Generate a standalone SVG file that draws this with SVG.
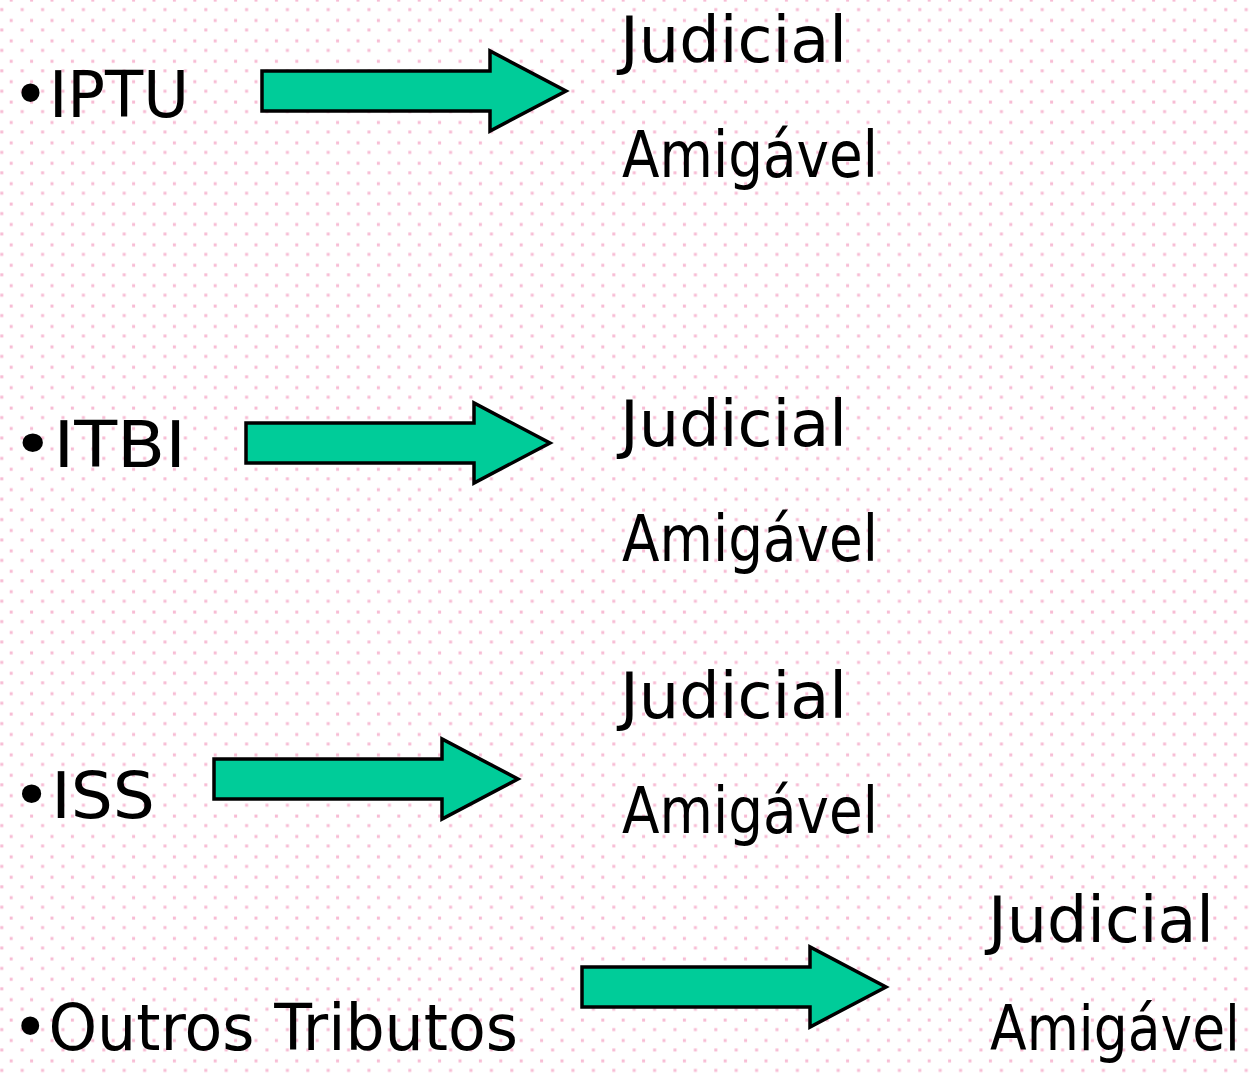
<svg xmlns="http://www.w3.org/2000/svg" xmlns:xlink="http://www.w3.org/1999/xlink" width="1249" height="1073" viewBox="0 0 1249 1073">
<defs>
<pattern id="dots" x="0" y="0" width="20.4" height="20.4" patternUnits="userSpaceOnUse">
<rect x="9.7" y="-1.4" width="3" height="3" fill="#f7bcd4"/>
<rect x="9.7" y="19" width="3" height="3" fill="#f7bcd4"/>
<rect x="0.3" y="8.1" width="3" height="3" fill="#f7bcd4"/>
<rect x="20.7" y="8.1" width="3" height="3" fill="#f7bcd4"/>
</pattern>
<path id="blockArrow" d="M0,20 H228 V0 L304,40 L228,80 V60 H0 Z"/>
<style>
.t{font-family:"Comic Sans MS","DejaVu Sans","Liberation Sans",sans-serif;font-size:64px;fill:#000}
.arr{fill:#00cc99;stroke:#000;stroke-width:3.5;stroke-linejoin:miter}
</style>
</defs>
<rect width="1249" height="1073" fill="#ffffff"/>
<rect width="1249" height="1073" fill="url(#dots)"/>
<g id="connectors">
<use xlink:href="#blockArrow" class="arr" transform="translate(262,51)"/>
<use xlink:href="#blockArrow" class="arr" transform="translate(246,403)"/>
<use xlink:href="#blockArrow" class="arr" transform="translate(214,739)"/>
<use xlink:href="#blockArrow" class="arr" transform="translate(582,947)"/>
</g>
<g id="iptu"><text class="t" x="12" y="117" textLength="177" lengthAdjust="spacingAndGlyphs">•IPTU</text></g>
<g id="iptu-judicial"><text class="t" x="620" y="62" textLength="227" lengthAdjust="spacingAndGlyphs">Judicial</text></g>
<g id="iptu-amigavel"><text class="t" x="622" y="177" textLength="256" lengthAdjust="spacingAndGlyphs">Amigável</text></g>
<g id="itbi"><text class="t" x="12" y="467" textLength="174" lengthAdjust="spacingAndGlyphs">•ITBI</text></g>
<g id="itbi-judicial"><text class="t" x="620" y="446" textLength="227" lengthAdjust="spacingAndGlyphs">Judicial</text></g>
<g id="itbi-amigavel"><text class="t" x="622" y="561" textLength="256" lengthAdjust="spacingAndGlyphs">Amigável</text></g>
<g id="iss"><text class="t" x="12" y="818" textLength="143" lengthAdjust="spacingAndGlyphs">•ISS</text></g>
<g id="iss-judicial"><text class="t" x="620" y="718" textLength="227" lengthAdjust="spacingAndGlyphs">Judicial</text></g>
<g id="iss-amigavel"><text class="t" x="622" y="833" textLength="256" lengthAdjust="spacingAndGlyphs">Amigável</text></g>
<g id="outros"><text class="t" x="12" y="1050" textLength="506" lengthAdjust="spacingAndGlyphs">•Outros Tributos</text></g>
<g id="outros-judicial"><text class="t" x="988" y="942" textLength="226" lengthAdjust="spacingAndGlyphs">Judicial</text></g>
<g id="outros-amigavel"><text class="t" x="990" y="1050" textLength="250" lengthAdjust="spacingAndGlyphs" style="font-size:62px">Amigável</text></g>
</svg>
